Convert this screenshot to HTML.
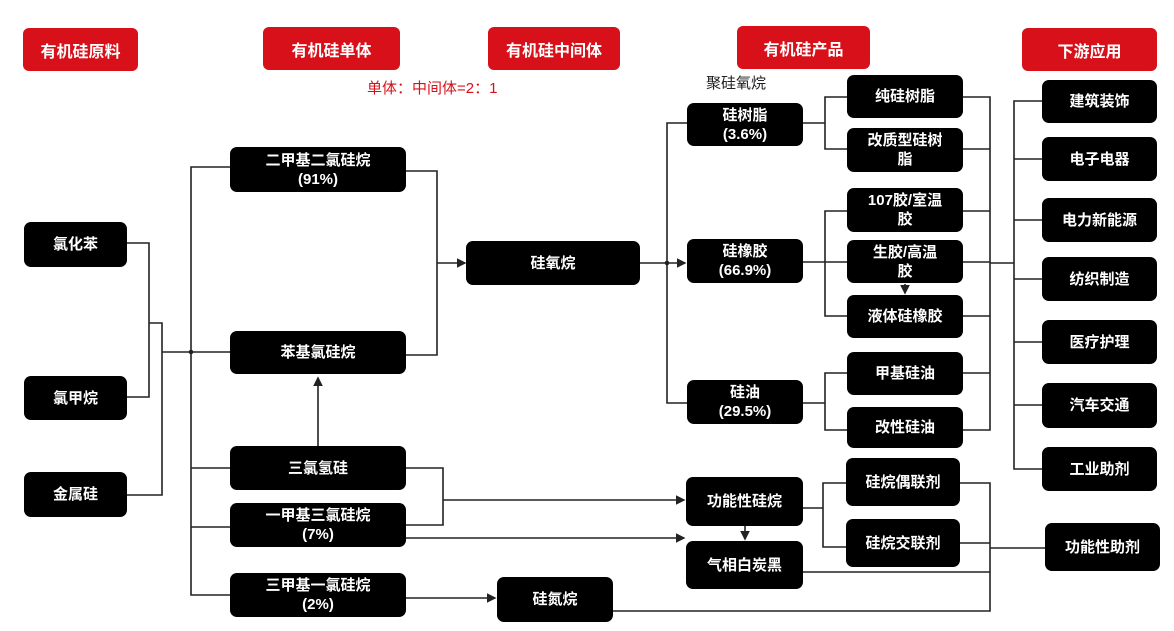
<!DOCTYPE html>
<html><head><meta charset="utf-8">
<style>
body{margin:0;width:1174px;height:631px;background:#fff;position:relative;overflow:hidden;font-family:"Liberation Sans","Noto Sans CJK SC",sans-serif;}
.b{position:absolute;background:#000;color:#fff;border-radius:7px;display:flex;align-items:center;justify-content:center;text-align:center;font-weight:bold;font-size:15px;line-height:19px;box-sizing:border-box;padding:0 4px;}
.h{position:absolute;background:#d7101a;color:#fff;border-radius:6px;display:flex;align-items:center;justify-content:center;font-weight:bold;font-size:16px;}
svg{position:absolute;left:0;top:0;}
.t{position:absolute;font-size:15px;}
</style></head><body>
<svg width="1174" height="631" viewBox="0 0 1174 631">
<defs><marker id="a" markerWidth="6" markerHeight="6" refX="5" refY="3" orient="auto"><path d="M0,0 L6,3 L0,6 z" fill="#222"/></marker></defs>
<g stroke="#222" stroke-width="1.6" fill="none">
<!-- raw -->
<path d="M127,243 H149 V397 H127"/>
<path d="M149,323 H162 V495 H127"/>
<path d="M162,352 H230"/>
<circle cx="191" cy="352" r="1.5" fill="#222"/>
<path d="M230,167 H191 V595 H230"/>
<path d="M191,468 H230 M191,527 H230"/>
<!-- monomer to intermediate -->
<path d="M406,171 H437 V355 H406"/>
<path d="M437,263 H465" marker-end="url(#a)"/>
<path d="M318,446 V378" marker-end="url(#a)"/>
<path d="M406,468 H443 V525 H406"/>
<path d="M443,500 H684" marker-end="url(#a)"/>
<path d="M406,538 H684" marker-end="url(#a)"/>
<path d="M406,598 H495" marker-end="url(#a)"/>
<!-- siloxane to products -->
<path d="M640,263 H685" marker-end="url(#a)"/>
<path d="M687,123 H667 V403 H687"/>
<circle cx="667" cy="263" r="1.5" fill="#222"/>
<path d="M803,123 H825 M847,97 H825 V149 H847"/>
<path d="M803,262 H847 M847,211 H825 V316 H847"/>
<path d="M803,403 H825 M847,373 H825 V430 H847"/>
<path d="M905,284 V293" marker-end="url(#a)"/>
<!-- merge to downstream -->
<path d="M963,97 H990 V430 H963"/>
<path d="M963,149 H990 M963,211 H990 M963,262 H990 M963,316 H990 M963,373 H990"/>
<path d="M990,263 H1014"/>
<path d="M1042,101 H1014 V469 H1042"/>
<path d="M1014,159 H1042 M1014,220 H1042 M1014,279 H1042 M1014,342 H1042 M1014,405 H1042"/>
<!-- functional -->
<path d="M803,508 H823 M846,483 H823 V547 H846"/>
<path d="M745,526 V539" marker-end="url(#a)"/>
<path d="M960,483 H990 V611 H613"/>
<path d="M960,543 H990 M803,572 H990 M990,548 H1045"/>
</g>
</svg>
<div class="h" style="left:23px;top:28px;width:115px;height:43px">有机硅原料</div>
<div class="h" style="left:263px;top:27px;width:137px;height:43px">有机硅单体</div>
<div class="h" style="left:488px;top:27px;width:132px;height:43px">有机硅中间体</div>
<div class="h" style="left:737px;top:26px;width:133px;height:43px">有机硅产品</div>
<div class="h" style="left:1022px;top:28px;width:135px;height:43px">下游应用</div>
<div class="t" style="left:367px;top:77px;color:#d7101a">单体：中间体=2：1</div>
<div class="t" style="left:706px;top:72px;color:#222">聚硅氧烷</div>

<div class="b" style="left:24px;top:222px;width:103px;height:45px">氯化苯</div>
<div class="b" style="left:24px;top:376px;width:103px;height:44px">氯甲烷</div>
<div class="b" style="left:24px;top:472px;width:103px;height:45px">金属硅</div>

<div class="b" style="left:230px;top:147px;width:176px;height:45px">二甲基二氯硅烷<br>(91%)</div>
<div class="b" style="left:230px;top:331px;width:176px;height:43px">苯基氯硅烷</div>
<div class="b" style="left:230px;top:446px;width:176px;height:44px">三氯氢硅</div>
<div class="b" style="left:230px;top:503px;width:176px;height:44px">一甲基三氯硅烷<br>(7%)</div>
<div class="b" style="left:230px;top:573px;width:176px;height:44px">三甲基一氯硅烷<br>(2%)</div>

<div class="b" style="left:466px;top:241px;width:174px;height:44px">硅氧烷</div>
<div class="b" style="left:497px;top:577px;width:116px;height:45px">硅氮烷</div>

<div class="b" style="left:687px;top:103px;width:116px;height:43px">硅树脂<br>(3.6%)</div>
<div class="b" style="left:687px;top:239px;width:116px;height:44px">硅橡胶<br>(66.9%)</div>
<div class="b" style="left:687px;top:380px;width:116px;height:44px">硅油<br>(29.5%)</div>
<div class="b" style="left:686px;top:477px;width:117px;height:49px">功能性硅烷</div>
<div class="b" style="left:686px;top:541px;width:117px;height:48px">气相白炭黑</div>

<div class="b" style="left:847px;top:75px;width:116px;height:43px">纯硅树脂</div>
<div class="b" style="left:847px;top:128px;width:116px;height:44px">改质型硅树<br>脂</div>
<div class="b" style="left:847px;top:188px;width:116px;height:44px">107胶/室温<br>胶</div>
<div class="b" style="left:847px;top:240px;width:116px;height:43px">生胶/高温<br>胶</div>
<div class="b" style="left:847px;top:295px;width:116px;height:43px">液体硅橡胶</div>
<div class="b" style="left:847px;top:352px;width:116px;height:43px">甲基硅油</div>
<div class="b" style="left:847px;top:407px;width:116px;height:41px">改性硅油</div>
<div class="b" style="left:846px;top:458px;width:114px;height:48px">硅烷偶联剂</div>
<div class="b" style="left:846px;top:519px;width:114px;height:48px">硅烷交联剂</div>

<div class="b" style="left:1042px;top:80px;width:115px;height:43px">建筑装饰</div>
<div class="b" style="left:1042px;top:137px;width:115px;height:44px">电子电器</div>
<div class="b" style="left:1042px;top:198px;width:115px;height:44px">电力新能源</div>
<div class="b" style="left:1042px;top:257px;width:115px;height:44px">纺织制造</div>
<div class="b" style="left:1042px;top:320px;width:115px;height:44px">医疗护理</div>
<div class="b" style="left:1042px;top:383px;width:115px;height:45px">汽车交通</div>
<div class="b" style="left:1042px;top:447px;width:115px;height:44px">工业助剂</div>
<div class="b" style="left:1045px;top:523px;width:115px;height:48px">功能性助剂</div>
</body></html>
